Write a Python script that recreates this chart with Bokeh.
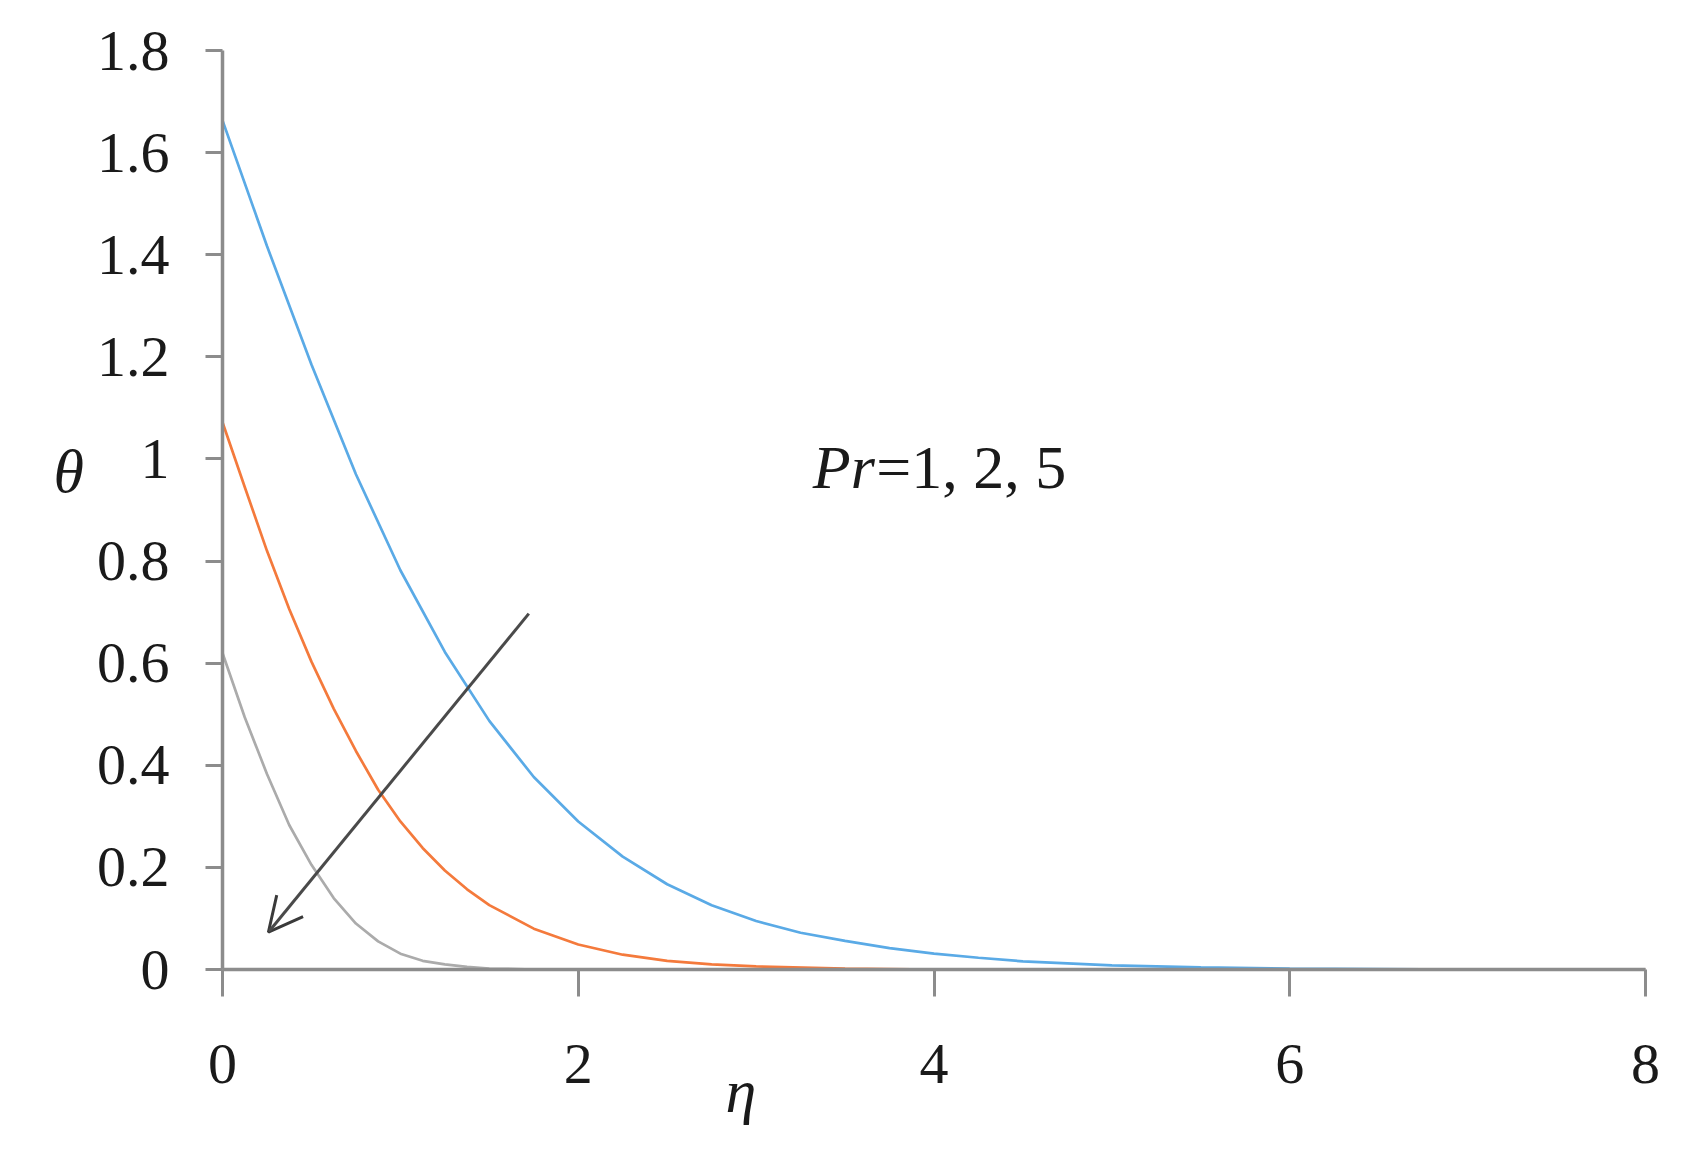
from bokeh.plotting import figure
from bokeh.models import Range1d, FixedTicker, Label, Arrow, OpenHead
from bokeh.embed import file_html
from bokeh.resources import INLINE

# temperature profiles
eta_pr1 = [0, 0.25, 0.5, 0.75, 1.0, 1.25, 1.5, 1.75, 2.0, 2.25, 2.5, 2.75, 3.0, 3.25,
           3.5, 3.75, 4.0, 4.25, 4.5, 4.75, 5.0, 5.5, 6.0, 6.5, 7.0, 8.0]
theta_pr1 = [1.663, 1.417, 1.185, 0.970, 0.782, 0.622, 0.487, 0.377, 0.290, 0.221, 0.167,
             0.126, 0.095, 0.072, 0.056, 0.042, 0.031, 0.023, 0.016, 0.012, 0.008, 0.004,
             0.002, 0.001, 0.0, 0.0]

eta_pr2 = [0, 0.125, 0.25, 0.375, 0.5, 0.625, 0.75, 0.875, 1.0, 1.125, 1.25, 1.375, 1.5,
           1.75, 2.0, 2.25, 2.5, 2.75, 3.0, 3.5, 4.0, 8.0]
theta_pr2 = [1.072, 0.945, 0.820, 0.706, 0.603, 0.511, 0.428, 0.352, 0.290, 0.238, 0.194,
             0.157, 0.126, 0.080, 0.049, 0.029, 0.017, 0.010, 0.006, 0.002, 0.0, 0.0]

eta_pr5 = [0, 0.125, 0.25, 0.375, 0.5, 0.625, 0.75, 0.875, 1.0, 1.125, 1.25, 1.375, 1.5,
           1.75, 8.0]
theta_pr5 = [0.62, 0.494, 0.383, 0.283, 0.205, 0.140, 0.090, 0.055, 0.031, 0.017, 0.010,
             0.005, 0.002, 0.0, 0.0]

x_ticks = [0, 2, 4, 6, 8]
y_ticks = [0, 0.2, 0.4, 0.6, 0.8, 1, 1.2, 1.4, 1.6, 1.8]
y_tick_labels = ["0", "0.2", "0.4", "0.6", "0.8", "1", "1.2", "1.4", "1.6", "1.8"]

arrow_start = (1.722, 0.697)
arrow_end = (0.258, 0.073)

series_colors = ["#5aaae6", "#f47a3c", "#ababab"]
FONT = "Liberation Serif"

p = figure(width=1666, height=1136, output_backend="svg", toolbar_location=None,
           x_range=Range1d(0, 8), y_range=Range1d(0, 1.8),
           min_border_left=222, min_border_right=21, min_border_top=50,
           min_border_bottom=167)
p.outline_line_color = None
p.grid.visible = False
p.background_fill_color = "white"

for xs, vals, col in zip([eta_pr1, eta_pr2, eta_pr5], [theta_pr1, theta_pr2, theta_pr5],
                         series_colors):
    p.line(xs, vals, line_color=col, line_width=2.7)

axis_col = "#8c8c8c"
for ax in (p.xaxis[0], p.yaxis[0]):
    ax.axis_line_color = axis_col
    ax.axis_line_width = 3.5
    ax.major_tick_line_color = axis_col
    ax.major_tick_line_width = 3
    ax.major_tick_in = 0
    ax.minor_tick_line_color = None
    ax.major_label_text_font = FONT
    ax.major_label_text_color = "#1a1a1a"

p.xaxis.ticker = FixedTicker(ticks=x_ticks)
p.xaxis.major_tick_out = 27
p.xaxis.major_label_standoff = 48
p.xaxis.major_label_text_font_size = "58px"

p.yaxis.ticker = FixedTicker(ticks=y_ticks)
p.yaxis.major_label_overrides = {t: l for t, l in zip(y_ticks, y_tick_labels)}
p.yaxis.major_tick_out = 17
p.yaxis.major_label_standoff = 36
p.yaxis.major_label_text_font_size = "58px"

p.add_layout(Arrow(end=OpenHead(size=34, line_width=3, line_color="#3a3a3a"),
                   x_start=arrow_start[0], y_start=arrow_start[1],
                   x_end=arrow_end[0], y_end=arrow_end[1],
                   line_width=3, line_color="#4a4a4a"))

p.add_layout(Label(x=3.319, y=0.984, text="Pr", text_font=FONT, text_font_style="italic",
                   text_font_size="62px", text_color="#1a1a1a", text_baseline="alphabetic"))
p.add_layout(Label(x=3.675, y=0.984, text="=1, 2, 5", text_font=FONT,
                   text_font_size="62px", text_color="#1a1a1a", text_baseline="alphabetic"))
# axis titles sit outside the frame, so they go into a side panel (not clipped)
p.add_layout(Label(x=-0.864, y=0.977, text="θ", text_font=FONT, text_font_style="italic",
                   text_font_size="62px", text_color="#1a1a1a", text_align="center",
                   text_baseline="middle"), "left")
p.add_layout(Label(x=2.914, y=-0.237, text="η", text_font=FONT, text_font_style="italic",
                   text_font_size="62px", text_color="#1a1a1a", text_align="center",
                   text_baseline="middle"), "left")

open("out.html", "w").write(file_html(p, INLINE))
